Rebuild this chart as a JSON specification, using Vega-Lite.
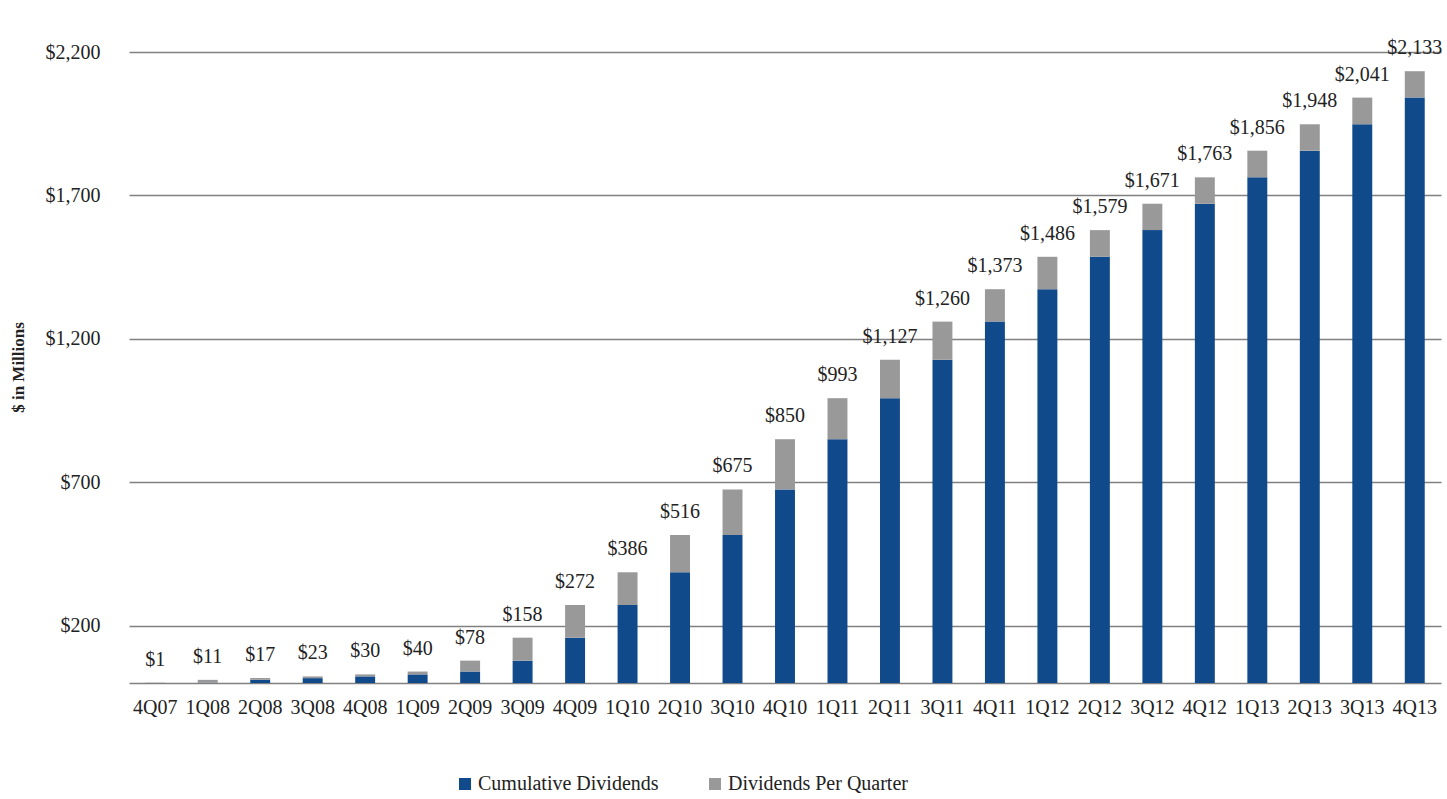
{
  "$schema": "https://vega.github.io/schema/vega-lite/v6.json",
  "width": 1312,
  "height": 631,
  "autosize": {"type": "none"},
  "padding": {"left": 129, "top": 52, "right": 6, "bottom": 116},
  "background": "white",
  "config": {"view": {"stroke": null}, "font": "Liberation Serif"},
  "datasets": {
    "bars": [
      {"quarter": "4Q07", "series": "Cumulative Dividends", "value": 0},
      {"quarter": "4Q07", "series": "Dividends Per Quarter", "value": 1},
      {"quarter": "1Q08", "series": "Cumulative Dividends", "value": 1},
      {"quarter": "1Q08", "series": "Dividends Per Quarter", "value": 10},
      {"quarter": "2Q08", "series": "Cumulative Dividends", "value": 11},
      {"quarter": "2Q08", "series": "Dividends Per Quarter", "value": 6},
      {"quarter": "3Q08", "series": "Cumulative Dividends", "value": 17},
      {"quarter": "3Q08", "series": "Dividends Per Quarter", "value": 6},
      {"quarter": "4Q08", "series": "Cumulative Dividends", "value": 23},
      {"quarter": "4Q08", "series": "Dividends Per Quarter", "value": 7},
      {"quarter": "1Q09", "series": "Cumulative Dividends", "value": 30},
      {"quarter": "1Q09", "series": "Dividends Per Quarter", "value": 10},
      {"quarter": "2Q09", "series": "Cumulative Dividends", "value": 40},
      {"quarter": "2Q09", "series": "Dividends Per Quarter", "value": 38},
      {"quarter": "3Q09", "series": "Cumulative Dividends", "value": 78},
      {"quarter": "3Q09", "series": "Dividends Per Quarter", "value": 80},
      {"quarter": "4Q09", "series": "Cumulative Dividends", "value": 158},
      {"quarter": "4Q09", "series": "Dividends Per Quarter", "value": 114},
      {"quarter": "1Q10", "series": "Cumulative Dividends", "value": 272},
      {"quarter": "1Q10", "series": "Dividends Per Quarter", "value": 114},
      {"quarter": "2Q10", "series": "Cumulative Dividends", "value": 386},
      {"quarter": "2Q10", "series": "Dividends Per Quarter", "value": 130},
      {"quarter": "3Q10", "series": "Cumulative Dividends", "value": 516},
      {"quarter": "3Q10", "series": "Dividends Per Quarter", "value": 159},
      {"quarter": "4Q10", "series": "Cumulative Dividends", "value": 675},
      {"quarter": "4Q10", "series": "Dividends Per Quarter", "value": 175},
      {"quarter": "1Q11", "series": "Cumulative Dividends", "value": 850},
      {"quarter": "1Q11", "series": "Dividends Per Quarter", "value": 143},
      {"quarter": "2Q11", "series": "Cumulative Dividends", "value": 993},
      {"quarter": "2Q11", "series": "Dividends Per Quarter", "value": 134},
      {"quarter": "3Q11", "series": "Cumulative Dividends", "value": 1127},
      {"quarter": "3Q11", "series": "Dividends Per Quarter", "value": 133},
      {"quarter": "4Q11", "series": "Cumulative Dividends", "value": 1260},
      {"quarter": "4Q11", "series": "Dividends Per Quarter", "value": 113},
      {"quarter": "1Q12", "series": "Cumulative Dividends", "value": 1373},
      {"quarter": "1Q12", "series": "Dividends Per Quarter", "value": 113},
      {"quarter": "2Q12", "series": "Cumulative Dividends", "value": 1486},
      {"quarter": "2Q12", "series": "Dividends Per Quarter", "value": 93},
      {"quarter": "3Q12", "series": "Cumulative Dividends", "value": 1579},
      {"quarter": "3Q12", "series": "Dividends Per Quarter", "value": 92},
      {"quarter": "4Q12", "series": "Cumulative Dividends", "value": 1671},
      {"quarter": "4Q12", "series": "Dividends Per Quarter", "value": 92},
      {"quarter": "1Q13", "series": "Cumulative Dividends", "value": 1763},
      {"quarter": "1Q13", "series": "Dividends Per Quarter", "value": 93},
      {"quarter": "2Q13", "series": "Cumulative Dividends", "value": 1856},
      {"quarter": "2Q13", "series": "Dividends Per Quarter", "value": 92},
      {"quarter": "3Q13", "series": "Cumulative Dividends", "value": 1948},
      {"quarter": "3Q13", "series": "Dividends Per Quarter", "value": 93},
      {"quarter": "4Q13", "series": "Cumulative Dividends", "value": 2041},
      {"quarter": "4Q13", "series": "Dividends Per Quarter", "value": 92}
    ],
    "totals": [
      {"quarter": "4Q07", "total": 1},
      {"quarter": "1Q08", "total": 11},
      {"quarter": "2Q08", "total": 17},
      {"quarter": "3Q08", "total": 23},
      {"quarter": "4Q08", "total": 30},
      {"quarter": "1Q09", "total": 40},
      {"quarter": "2Q09", "total": 78},
      {"quarter": "3Q09", "total": 158},
      {"quarter": "4Q09", "total": 272},
      {"quarter": "1Q10", "total": 386},
      {"quarter": "2Q10", "total": 516},
      {"quarter": "3Q10", "total": 675},
      {"quarter": "4Q10", "total": 850},
      {"quarter": "1Q11", "total": 993},
      {"quarter": "2Q11", "total": 1127},
      {"quarter": "3Q11", "total": 1260},
      {"quarter": "4Q11", "total": 1373},
      {"quarter": "1Q12", "total": 1486},
      {"quarter": "2Q12", "total": 1579},
      {"quarter": "3Q12", "total": 1671},
      {"quarter": "4Q12", "total": 1763},
      {"quarter": "1Q13", "total": 1856},
      {"quarter": "2Q13", "total": 1948},
      {"quarter": "3Q13", "total": 2041},
      {"quarter": "4Q13", "total": 2133}
    ]
  },
  "layer": [
    {
      "data": {"name": "bars"},
      "mark": {"type": "bar"},
      "encoding": {
        "x": {
          "field": "quarter", "type": "nominal", "sort": null,
          "scale": {"paddingInner": 0.62, "paddingOuter": 0.31},
          "axis": {
            "title": null, "labelAngle": 0, "ticks": false,
            "domainColor": "#808080", "domainWidth": 1.5,
            "labelPadding": 14, "labelFontSize": 20, "labelColor": "#222222"
          }
        },
        "y": {
          "field": "value", "type": "quantitative", "stack": "zero",
          "scale": {"domain": [0, 2200]},
          "axis": {
            "values": [200, 700, 1200, 1700, 2200], "format": "$,.0f",
            "labelFontSize": 20, "labelPadding": 29, "labelColor": "#222222",
            "ticks": false, "domain": false,
            "gridColor": "#808080", "gridWidth": 1.5,
            "title": "$ in Millions", "titleFontSize": 17, "titleFontWeight": "bold",
            "titleColor": "#222222", "titleX": -111, "titleY": 315,
            "titleAlign": "center", "titleBaseline": "middle"
          }
        },
        "color": {
          "field": "series", "type": "nominal",
          "scale": {"domain": ["Cumulative Dividends", "Dividends Per Quarter"], "range": ["#114a8b", "#999999"]},
          "legend": {
            "title": null, "orient": "none", "legendX": 326, "legendY": 722,
            "direction": "horizontal", "symbolType": "square", "symbolSize": 144,
            "labelFontSize": 20, "labelColor": "#222222", "labelLimit": 0,
            "columnPadding": 46, "labelOffset": 3
          }
        },
        "order": {"field": "series", "sort": "ascending"}
      }
    },
    {
      "data": {"name": "totals"},
      "mark": {"type": "text", "dy": -17, "baseline": "alphabetic", "fontSize": 20, "color": "#222222"},
      "encoding": {
        "x": {"field": "quarter", "type": "nominal", "sort": null},
        "y": {"field": "total", "type": "quantitative"},
        "text": {"field": "total", "format": "$,.0f"}
      }
    }
  ]
}
